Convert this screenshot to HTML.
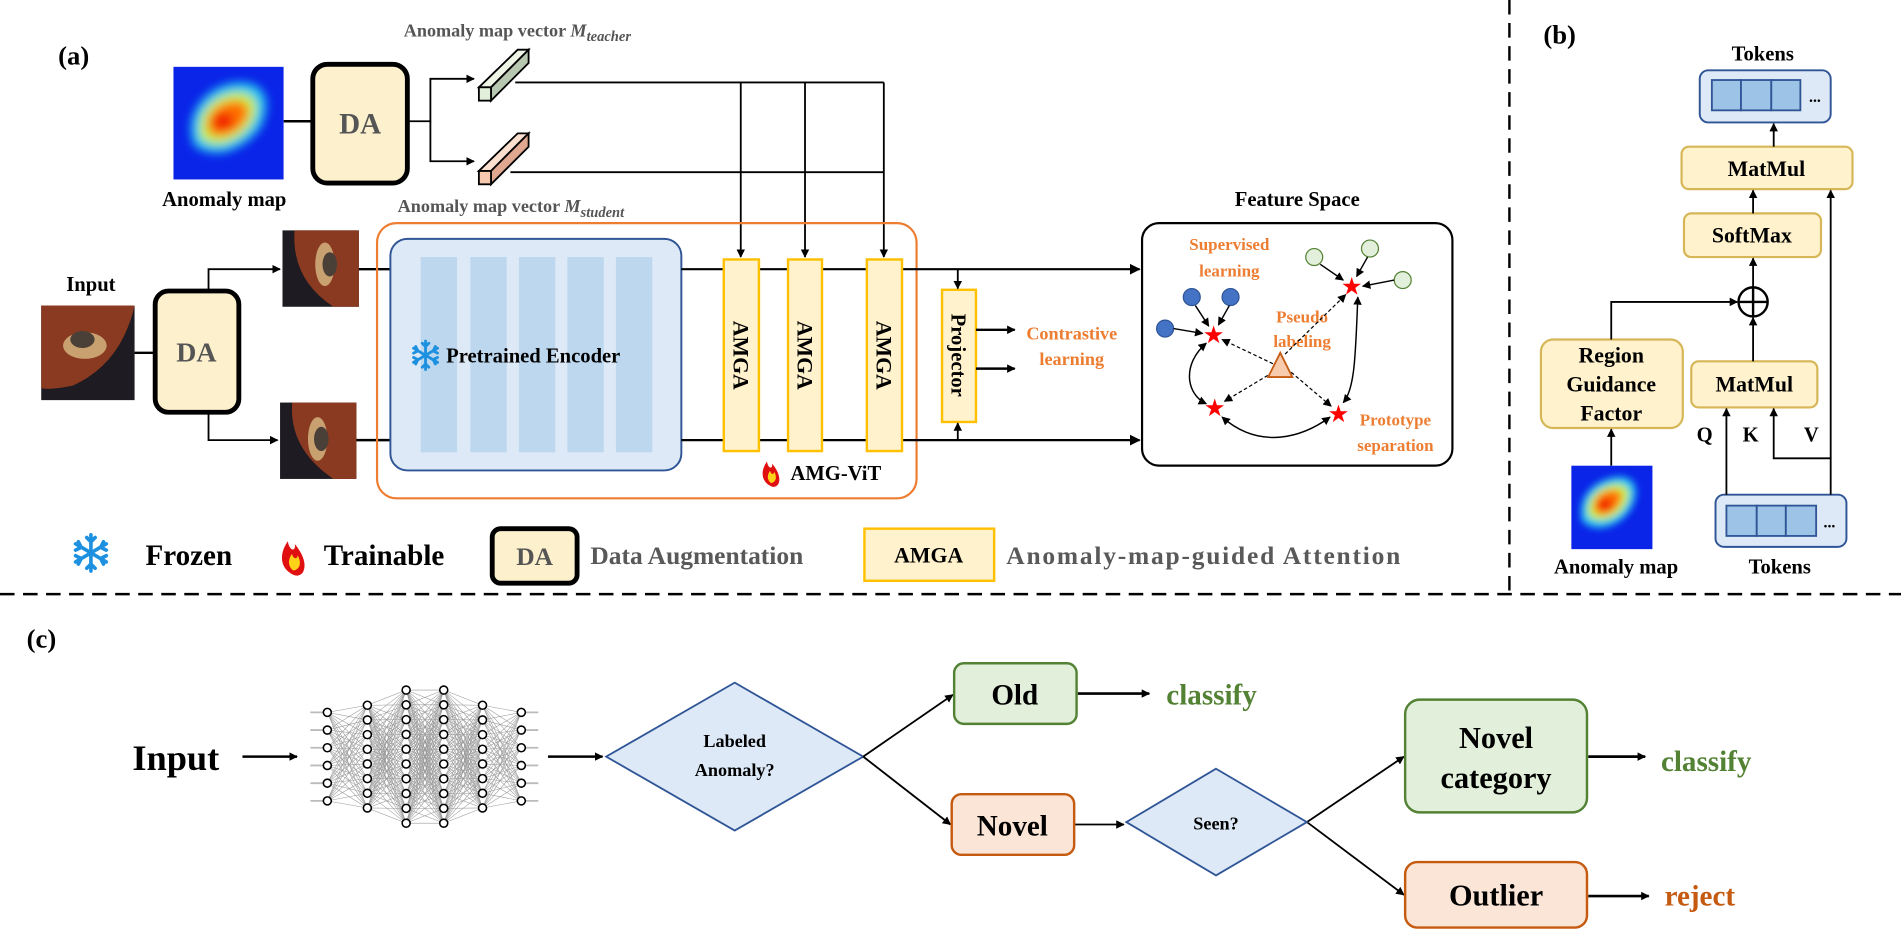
<!DOCTYPE html>
<html><head><meta charset="utf-8"><style>
html,body{margin:0;padding:0;background:#fff;}
svg{display:block;font-family:"Liberation Serif",serif;font-weight:bold;}
</style></head><body>
<svg id="s" width="1901" height="934" viewBox="0 0 1568 770.3" preserveAspectRatio="none" xmlns="http://www.w3.org/2000/svg">
<defs>
<marker id="ar" viewBox="0 0 10 10" refX="9" refY="5" markerWidth="7" markerHeight="7" orient="auto-start-reverse" markerUnits="userSpaceOnUse"><path d="M0,0 L10,5 L0,10 z" fill="#000"/></marker>
<marker id="ar2" viewBox="0 0 10 10" refX="9" refY="5" markerWidth="9" markerHeight="9" orient="auto-start-reverse" markerUnits="userSpaceOnUse"><path d="M0,0 L10,5 L0,10 z" fill="#000"/></marker>
<filter id="bl" x="-50%" y="-50%" width="200%" height="200%"><feGaussianBlur stdDeviation="4"/></filter>
<filter id="bl2" x="-50%" y="-50%" width="200%" height="200%"><feGaussianBlur stdDeviation="3"/></filter>
<clipPath id="c1"><rect x="143" y="55" width="91" height="93"/></clipPath>
<clipPath id="c2"><rect x="1296" y="384" width="67" height="69"/></clipPath>
<g id="flame"><path d="M0,0 C-9,-4 -11,-14 -4,-24 C-3,-17 2,-16 1,-22 C6,-16 10,-8 7,-2 C5,1 2,1 0,0z" fill="#e01010"/><path d="M0,-3 C-4,-6 -4,-11 -1,-15 C0,-11 3,-11 3,-14 C6,-9 5,-4 0,-3z" fill="#ffd21a"/></g>
<g id="snow" stroke="#1e90e0" stroke-width="2.6" stroke-linecap="round" fill="none"><path d="M0,-13V13M-11,-6.5L11,6.5M-11,6.5L11,-6.5M-3,-11L0,-8L3,-11M-3,11L0,8L3,11M-11,-2L-7,-4L-9,-8M11,2L7,4L9,8M-11,2L-7,4L-9,8M11,-2L7,-4L9,-8"/></g>
</defs>

<line x1="1245" y1="0" x2="1245" y2="490" stroke="#000" stroke-width="2" stroke-dasharray="12,7"/>
<line x1="0" y1="490" x2="1568" y2="490" stroke="#000" stroke-width="2" stroke-dasharray="12,7"/>

<!-- (a) -->
<text x="48" y="53" font-size="22">(a)</text>
<g clip-path="url(#c1)"><rect x="143" y="55" width="91" height="93" fill="#0a24e8"/>
<g filter="url(#bl)"><path d="M160,120 C150,95 170,70 195,68 C220,66 225,85 215,105 C205,120 180,135 160,120Z" fill="#20c8f0"/><path d="M166,114 C160,95 175,78 195,76 C213,76 215,90 207,103 C198,116 178,125 166,114Z" fill="#c8f040"/><path d="M172,108 C168,94 180,84 195,83 C207,84 207,95 200,103 C192,112 178,116 172,108Z" fill="#ff7000"/><ellipse cx="184" cy="100" rx="9" ry="7" fill="#f02000"/></g></g>
<text x="185" y="170" font-size="17" text-anchor="middle">Anomaly map</text>
<line x1="234" y1="100" x2="257" y2="100" stroke="#000" stroke-width="2"/>
<rect x="258" y="53" width="78" height="98" rx="12" fill="#fdf0cd" stroke="#000" stroke-width="4"/>
<text x="297" y="110" font-size="24" fill="#555" text-anchor="middle">DA</text>
<polyline points="336,100 355,100 355,65 391,65" fill="none" stroke="#000" stroke-width="1.5" marker-end="url(#ar)"/>
<polyline points="355,100 355,133 391,133" fill="none" stroke="#000" stroke-width="1.5" marker-end="url(#ar)"/>
<g stroke="#000" stroke-width="1.5">
<polygon points="395,72 427,41 436,41 405,72" fill="#eef4e6"/><polygon points="405,72 436,41 436,52 405,83" fill="#b8c8b0"/><rect x="395" y="72" width="10" height="11" fill="#e2efda"/>
<polygon points="395,141 427,110 436,110 405,141" fill="#fbe0d0"/><polygon points="405,141 436,110 436,121 405,152" fill="#e0a890"/><rect x="395" y="141" width="10" height="11" fill="#f6c8b0"/>
</g>
<text x="333" y="30" font-size="15" fill="#555">Anomaly map vector <tspan font-style="italic">M</tspan><tspan font-style="italic" font-size="12" dy="4">teacher</tspan></text>
<text x="328" y="175" font-size="15" fill="#555">Anomaly map vector <tspan font-style="italic">M</tspan><tspan font-style="italic" font-size="12" dy="4">student</tspan></text>
<polyline points="425,68 729,68" fill="none" stroke="#000" stroke-width="1.5"/>
<polyline points="421,142 729,142" fill="none" stroke="#000" stroke-width="1.5"/>
<line x1="611" y1="68" x2="611" y2="212" stroke="#000" stroke-width="1.5" marker-end="url(#ar)"/>
<line x1="664" y1="68" x2="664" y2="212" stroke="#000" stroke-width="1.5" marker-end="url(#ar)"/>
<line x1="729" y1="68" x2="729" y2="212" stroke="#000" stroke-width="1.5" marker-end="url(#ar)"/>

<text x="75" y="240" font-size="17" text-anchor="middle">Input</text>
<rect x="34" y="252" width="77" height="78" fill="#1e1b22"/>
<path d="M34,252 L111,252 Q100,300 60,318 Q40,322 34,320Z" fill="#8a3a20"/>
<ellipse cx="70" cy="285" rx="18" ry="11" fill="#c9a070"/><ellipse cx="68" cy="280" rx="10" ry="7" fill="#4a4038"/>
<line x1="111" y1="291" x2="128" y2="291" stroke="#000" stroke-width="2"/>
<rect x="128" y="240" width="69" height="100" rx="11" fill="#fdf0cd" stroke="#000" stroke-width="4"/>
<text x="162" y="298" font-size="23" fill="#555" text-anchor="middle">DA</text>
<polyline points="172,240 172,222 231,222" fill="none" stroke="#000" stroke-width="1.5" marker-end="url(#ar)"/>
<polyline points="172,340 172,363 229,363" fill="none" stroke="#000" stroke-width="1.5" marker-end="url(#ar)"/>
<rect x="233" y="190" width="63" height="63" fill="#1e1b22"/>
<path d="M243,190 L296,190 L296,253 L275,253 Q240,230 243,190Z" fill="#8a3a20"/><ellipse cx="268" cy="218" rx="8" ry="18" fill="#c9a070"/><ellipse cx="272" cy="218" rx="6" ry="10" fill="#4a4038"/>
<rect x="231" y="332" width="63" height="63" fill="#1e1b22"/>
<path d="M241,332 L294,332 L294,395 L275,395 Q238,370 241,332Z" fill="#8a3a20"/><ellipse cx="262" cy="362" rx="8" ry="18" fill="#c9a070"/><ellipse cx="265" cy="362" rx="6" ry="10" fill="#4a4038"/>
<line x1="296" y1="222" x2="322" y2="222" stroke="#000" stroke-width="2"/>
<line x1="294" y1="363" x2="322" y2="363" stroke="#000" stroke-width="2"/>

<rect x="311" y="184" width="445" height="227" rx="16" fill="none" stroke="#ed7d31" stroke-width="1.8"/>
<rect x="322" y="197" width="240" height="191" rx="14" fill="#dde9f6" stroke="#2f5597" stroke-width="1.6"/>
<g fill="#bdd7ee"><rect x="347" y="212" width="30" height="161"/><rect x="388" y="212" width="30" height="161"/><rect x="428" y="212" width="30" height="161"/><rect x="468" y="212" width="30" height="161"/><rect x="508" y="212" width="30" height="161"/></g>
<use href="#snow" transform="translate(351,293) scale(0.9)"/>
<text x="368" y="299" font-size="17">Pretrained Encoder</text>
<line x1="562" y1="222" x2="940" y2="222" stroke="#000" stroke-width="1.8" marker-end="url(#ar2)"/>
<line x1="562" y1="363" x2="940" y2="363" stroke="#000" stroke-width="1.8" marker-end="url(#ar2)"/>
<g fill="#fff2cc" stroke="#ffc000" stroke-width="2"><rect x="597" y="214" width="29" height="158"/><rect x="650" y="214" width="28" height="158"/><rect x="715" y="214" width="29" height="158"/><rect x="777" y="239" width="28" height="109"/></g>
<g font-size="18"><text transform="translate(605,293) rotate(90)" text-anchor="middle">AMGA</text><text transform="translate(658,293) rotate(90)" text-anchor="middle">AMGA</text><text transform="translate(723,293) rotate(90)" text-anchor="middle">AMGA</text><text transform="translate(785,293) rotate(90)" text-anchor="middle" font-size="17">Projector</text></g>
<line x1="790" y1="222" x2="790" y2="238" stroke="#000" stroke-width="1.5" marker-end="url(#ar)"/>
<line x1="790" y1="363" x2="790" y2="349" stroke="#000" stroke-width="1.5" marker-end="url(#ar)"/>
<line x1="805" y1="272" x2="837" y2="272" stroke="#000" stroke-width="2" marker-end="url(#ar)"/>
<line x1="805" y1="304" x2="837" y2="304" stroke="#000" stroke-width="2" marker-end="url(#ar)"/>
<text x="884" y="280" font-size="15" fill="#ed7d31" text-anchor="middle">Contrastive</text>
<text x="884" y="301" font-size="15" fill="#ed7d31" text-anchor="middle">learning</text>
<use href="#flame" transform="translate(636,401) scale(0.85)"/>
<text x="652" y="396" font-size="17">AMG-ViT</text>

<text x="1070" y="170" font-size="17" text-anchor="middle">Feature Space</text>
<rect x="942" y="184" width="256" height="200" rx="14" fill="#fff" stroke="#000" stroke-width="1.8"/>
<g font-size="14" fill="#ed7d31" text-anchor="middle"><text x="1014" y="206">Supervised</text><text x="1014" y="228">learning</text><text x="1074" y="266">Pseudo</text><text x="1074" y="286">labeling</text><text x="1151" y="351">Prototype</text><text x="1151" y="372">separation</text></g>
<g fill="#4472c4" stroke="#2f5597"><circle cx="983" cy="245" r="7"/><circle cx="1015" cy="245" r="7"/><circle cx="961" cy="271" r="7"/></g>
<g fill="#e2efda" stroke="#548235"><circle cx="1084" cy="212" r="7"/><circle cx="1130" cy="205" r="7"/><circle cx="1157" cy="231" r="7"/></g>
<g stroke="#000" stroke-width="1.2" fill="none" marker-end="url(#ar)">
<line x1="986" y1="252" x2="997" y2="269"/><line x1="1014" y1="252" x2="1005" y2="268"/><line x1="968" y1="271" x2="992" y2="275"/>
<line x1="1089" y1="218" x2="1108" y2="231"/><line x1="1128" y1="212" x2="1119" y2="228"/><line x1="1150" y1="231" x2="1124" y2="236"/>
<path d="M995,283 C975,300 978,325 995,333" marker-start="url(#ar)"/>
<path d="M1008,344 C1040,372 1075,360 1097,344" marker-start="url(#ar)"/>
<path d="M1120,245 C1118,290 1118,320 1108,332" marker-start="url(#ar)"/>
</g>
<g stroke="#000" stroke-width="1" stroke-dasharray="3,2" fill="none" marker-end="url(#ar)">
<line x1="1050" y1="300" x2="1008" y2="280"/><line x1="1050" y1="307" x2="1010" y2="331"/><line x1="1065" y1="307" x2="1098" y2="335"/><line x1="1060" y1="292" x2="1110" y2="243"/></g>
<polygon points="1056,291 1046,311 1066,311" fill="#f8cbad" stroke="#c55a11" stroke-width="1.5"/>
<g fill="#ff0000" font-size="20" text-anchor="middle" font-family="DejaVu Sans"><text x="1001" y="283">★</text><text x="1115" y="243">★</text><text x="1002" y="343">★</text><text x="1104" y="348">★</text></g>

<use href="#snow" transform="translate(75,456) scale(1.15)"/>
<text x="120" y="466" font-size="24">Frozen</text>
<use href="#flame" transform="translate(242,474) scale(1.15)"/>
<text x="267" y="466" font-size="24">Trainable</text>
<rect x="406" y="436" width="70" height="45" rx="7" fill="#fdf0cd" stroke="#000" stroke-width="4"/>
<text x="441" y="466" font-size="21" fill="#555" text-anchor="middle">DA</text>
<text x="487" y="465" font-size="21" fill="#595959">Data Augmentation</text>
<rect x="713" y="436" width="107" height="43" fill="#fff2cc" stroke="#ffc000" stroke-width="2"/>
<text x="766" y="464" font-size="18" text-anchor="middle">AMGA</text>
<text x="830" y="465" font-size="21" fill="#595959" textLength="325">Anomaly-map-guided Attention</text>

<!-- (b) -->
<text x="1273" y="36" font-size="22">(b)</text>
<text x="1454" y="50" font-size="17" text-anchor="middle">Tokens</text>
<rect x="1402" y="58" width="108" height="43" rx="7" fill="#dde9f6" stroke="#2f5597" stroke-width="1.6"/>
<g fill="#9dc3e6" stroke="#2f5597" stroke-width="1.5"><rect x="1412" y="66" width="24" height="25"/><rect x="1436" y="66" width="25" height="25"/><rect x="1461" y="66" width="24" height="25"/></g>
<text x="1497" y="84" font-size="13" text-anchor="middle">...</text>
<rect x="1387" y="121" width="141" height="35" rx="6" fill="#fff2cc" stroke="#d6b656" stroke-width="1.8"/>
<text x="1457" y="145" font-size="18" text-anchor="middle">MatMul</text>
<rect x="1389" y="176" width="113" height="36" rx="6" fill="#fff2cc" stroke="#d6b656" stroke-width="1.8"/>
<text x="1445" y="200" font-size="18" text-anchor="middle">SoftMax</text>
<circle cx="1446" cy="249" r="12" fill="#fff" stroke="#000" stroke-width="2"/>
<line x1="1434" y1="249" x2="1458" y2="249" stroke="#000" stroke-width="2"/><line x1="1446" y1="237" x2="1446" y2="261" stroke="#000" stroke-width="2"/>
<rect x="1271" y="280" width="117" height="73" rx="10" fill="#fff2cc" stroke="#d6b656" stroke-width="1.8"/>
<g font-size="18" text-anchor="middle"><text x="1329" y="299">Region</text><text x="1329" y="323">Guidance</text><text x="1329" y="347">Factor</text></g>
<rect x="1395" y="298" width="104" height="38" rx="6" fill="#fff2cc" stroke="#d6b656" stroke-width="1.8"/>
<text x="1447" y="323" font-size="18" text-anchor="middle">MatMul</text>
<g clip-path="url(#c2)"><rect x="1296" y="384" width="67" height="69" fill="#0a24e8"/>
<g filter="url(#bl2)"><path d="M1305,430 C1300,410 1315,395 1335,393 C1352,393 1352,408 1345,420 C1338,432 1318,442 1305,430Z" fill="#20c8f0"/><path d="M1310,425 C1307,410 1320,400 1334,399 C1346,400 1345,410 1340,418 C1333,428 1318,433 1310,425Z" fill="#c8f040"/><path d="M1315,421 C1313,410 1322,404 1332,404 C1340,405 1338,413 1334,418 C1328,425 1319,427 1315,421Z" fill="#ff7000"/><ellipse cx="1324" cy="416" rx="6" ry="5" fill="#f02000"/></g></g>
<text x="1333" y="473" font-size="17" text-anchor="middle">Anomaly map</text>
<rect x="1415" y="408" width="108" height="43" rx="7" fill="#dde9f6" stroke="#2f5597" stroke-width="1.6"/>
<g fill="#9dc3e6" stroke="#2f5597" stroke-width="1.5"><rect x="1424" y="417" width="25" height="25"/><rect x="1449" y="417" width="24" height="25"/><rect x="1473" y="417" width="25" height="25"/></g>
<text x="1509" y="435" font-size="13" text-anchor="middle">...</text>
<text x="1468" y="473" font-size="17" text-anchor="middle">Tokens</text>
<g font-size="17" text-anchor="middle"><text x="1406" y="364">Q</text><text x="1444" y="364">K</text><text x="1494" y="364">V</text></g>
<g stroke="#000" stroke-width="1.5" fill="none" marker-end="url(#ar)">
<line x1="1329" y1="384" x2="1329" y2="354"/>
<polyline points="1329,280 1329,249 1433,249"/>
<line x1="1424" y1="408" x2="1424" y2="337"/>
<polyline points="1510,408 1510,378 1463,378 1463,337"/>
<line x1="1510" y1="378" x2="1510" y2="157"/>
<line x1="1446" y1="298" x2="1446" y2="262"/>
<line x1="1446" y1="237" x2="1446" y2="213"/>
<line x1="1446" y1="176" x2="1446" y2="157"/>
<line x1="1463" y1="121" x2="1463" y2="102"/>
</g>

<!-- (c) -->
<text x="22" y="534" font-size="22">(c)</text>
<text x="145" y="635" font-size="30" text-anchor="middle">Input</text>
<line x1="200" y1="624" x2="245" y2="624" stroke="#000" stroke-width="2" marker-end="url(#ar)"/>
<g id="nnl" stroke="#999" stroke-width="0.45"></g>
<g id="nnn" fill="#fff" stroke="#000" stroke-width="1.3"></g>
<line x1="452" y1="624" x2="497" y2="624" stroke="#000" stroke-width="2" marker-end="url(#ar)"/>
<polygon points="606,563 712,624 606,685 500,624" fill="#dde9f6" stroke="#2f5597" stroke-width="1.5"/>
<text x="606" y="616" font-size="15" text-anchor="middle">Labeled</text>
<text x="606" y="640" font-size="15" text-anchor="middle">Anomaly?</text>
<g stroke="#000" stroke-width="1.5" fill="none" marker-end="url(#ar)">
<line x1="712" y1="624" x2="786" y2="573"/><line x1="712" y1="624" x2="784" y2="680"/>
<line x1="886" y1="680" x2="927" y2="680"/>
<line x1="1078" y1="678" x2="1158" y2="624"/><line x1="1078" y1="678" x2="1158" y2="738"/>
</g>
<g stroke="#000" stroke-width="2.2" fill="none" marker-end="url(#ar)">
<line x1="889" y1="572" x2="948" y2="572"/><line x1="1310" y1="624" x2="1357" y2="624"/><line x1="1310" y1="739" x2="1360" y2="739"/></g>
<rect x="787" y="547" width="101" height="50" rx="8" fill="#e2efda" stroke="#548235" stroke-width="2"/>
<text x="837" y="581" font-size="24" text-anchor="middle">Old</text>
<text x="962" y="581" font-size="24" fill="#548235">classify</text>
<rect x="785" y="655" width="101" height="50" rx="8" fill="#fbe5d6" stroke="#c55a11" stroke-width="2"/>
<text x="835" y="689" font-size="24" text-anchor="middle">Novel</text>
<polygon points="1003,634 1078,678 1003,722 929,678" fill="#dde9f6" stroke="#2f5597" stroke-width="1.5"/>
<text x="1003" y="684" font-size="15" text-anchor="middle">Seen?</text>
<rect x="1159" y="577" width="150" height="93" rx="12" fill="#e2efda" stroke="#548235" stroke-width="2"/>
<text x="1234" y="617" font-size="25" text-anchor="middle">Novel</text>
<text x="1234" y="650" font-size="25" text-anchor="middle">category</text>
<text x="1370" y="636" font-size="24" fill="#548235">classify</text>
<rect x="1159" y="711" width="150" height="54" rx="10" fill="#fbe5d6" stroke="#c55a11" stroke-width="2"/>
<text x="1234" y="747" font-size="25" text-anchor="middle">Outlier</text>
<text x="1373" y="747" font-size="24" fill="#c55a11">reject</text>
</svg>
<script>
(function(){
var NS="http://www.w3.org/2000/svg";
var xs=[270,303,335,366,398,430],ns=[6,8,10,10,8,6],sp=[14.6,12.1,12.2,12.2,12.1,14.6];
var L=[];
for(var i=0;i<6;i++){var a=[];for(var j=0;j<ns[i];j++)a.push(624-(ns[i]-1)*sp[i]/2+j*sp[i]);L.push(a);}
var gl=document.getElementById("nnl"),gn=document.getElementById("nnn");
for(var i=0;i<5;i++)for(var a=0;a<L[i].length;a++)for(var b=0;b<L[i+1].length;b++){var l=document.createElementNS(NS,"line");l.setAttribute("x1",xs[i]);l.setAttribute("y1",L[i][a]);l.setAttribute("x2",xs[i+1]);l.setAttribute("y2",L[i+1][b]);gl.appendChild(l);}
for(var i=0;i<6;i++){if(i==0||i==5){for(var a=0;a<L[i].length;a++){var l=document.createElementNS(NS,"line");l.setAttribute("x1",xs[i]+(i==0?-14:0));l.setAttribute("x2",xs[i]+(i==0?0:14));l.setAttribute("y1",L[i][a]);l.setAttribute("y2",L[i][a]);l.setAttribute("stroke","#bbb");l.setAttribute("stroke-width","1.5");gl.appendChild(l);}}
for(var a=0;a<L[i].length;a++){var c=document.createElementNS(NS,"circle");c.setAttribute("cx",xs[i]);c.setAttribute("cy",L[i][a]);c.setAttribute("r",3.3);gn.appendChild(c);}}
})();
</script>
</body></html>
